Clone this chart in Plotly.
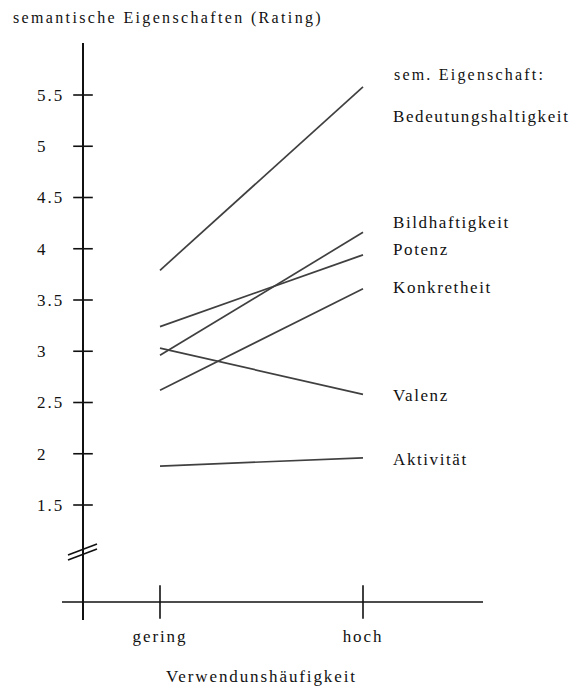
import plotly.graph_objects as go

# ---------------- data ----------------
categories = ["gering", "hoch"]
series_names = ["Bedeutungshaltigkeit", "Bildhaftigkeit", "Potenz",
                "Konkretheit", "Valenz", "Aktivität"]
bedeutungshaltigkeit = [3.79, 5.58]
bildhaftigkeit = [2.96, 4.16]
potenz = [3.24, 3.94]
konkretheit = [2.62, 3.61]
valenz = [3.03, 2.58]
aktivitaet = [1.88, 1.96]
y_tick_vals = [1.5, 2, 2.5, 3, 3.5, 4, 4.5, 5, 5.5]
y_tick_text = ["1.5", "2", "2.5", "3", "3.5", "4", "4.5", "5", "5.5"]

series_values = [bedeutungshaltigkeit, bildhaftigkeit, potenz,
                 konkretheit, valenz, aktivitaet]

# ---------------- geometry (reference pixels) ----------------
PAGE_OFF = 8                      # browser body margin
W, H = 577 - PAGE_OFF, 691 - PAGE_OFF
PL, PR, PT, PB = 8, 577, 43, 620  # plot area in reference pixels
X_UNIT = 203.0      # px per category step
Y_UNIT = 102.5      # px per rating unit
X0_PX = 160.0       # px of first category
Y15_PX = 505.0      # px of rating 1.5


def xv(px):
    return (px - X0_PX) / X_UNIT


def yv(py):
    return 1.5 + (Y15_PX - py) / Y_UNIT


def pxp(px):
    return (px - PL) / (PR - PL)


def pyp(py):
    return (PB - py) / (PB - PT)


def sp(text, ls):
    return f'<span style="letter-spacing:{ls}px">{text}</span>'


FONT = "Liberation Serif"
INK = "#111111"
LINE = "#404040"
LS = 1.6

x_pos = list(range(len(categories)))
yaxis_x = xv(83)
xaxis_y = yv(602)

fig = go.Figure()

for name, vals in zip(series_names, series_values):
    fig.add_trace(go.Scatter(x=x_pos, y=vals, mode="lines", name=name,
                             line=dict(color=LINE, width=1.7),
                             showlegend=False, hoverinfo="name+y"))

# x axis line
fig.add_trace(go.Scatter(x=[xv(62), xv(483)], y=[xaxis_y, xaxis_y],
                         mode="lines", line=dict(color=INK, width=1.6),
                         showlegend=False, hoverinfo="skip"))
# crossing ticks on x axis
fig.add_trace(go.Scatter(x=x_pos, y=[xaxis_y] * len(x_pos), mode="markers",
                         marker=dict(symbol="line-ns", size=24,
                                     line=dict(color=INK, width=1.6)),
                         showlegend=False, hoverinfo="skip", cliponaxis=False))
# crossing ticks on y axis
fig.add_trace(go.Scatter(x=[yaxis_x] * len(y_tick_vals), y=y_tick_vals,
                         mode="markers",
                         marker=dict(symbol="line-ew", size=14,
                                     line=dict(color=INK, width=1.6)),
                         showlegend=False, hoverinfo="skip", cliponaxis=False))
# invisible trace on y2 so the overlay axis is drawn
fig.add_trace(go.Scatter(x=[x_pos[0]], y=[y_tick_vals[0]], yaxis="y2",
                         mode="markers", marker=dict(opacity=0),
                         showlegend=False, hoverinfo="skip"))

yrange = [yv(PB), yv(PT)]

fig.update_layout(
    width=W, height=H,
    margin=dict(l=PL - PAGE_OFF, r=577 - PR, t=PT - PAGE_OFF, b=691 - PB),
    paper_bgcolor="white", plot_bgcolor="white",
    font=dict(family=FONT, color=INK, size=17),
    xaxis=dict(range=[xv(PL), xv(PR)], tickvals=x_pos,
               ticktext=[sp(c, 1.9) for c in categories],
               showgrid=False, zeroline=False, showline=False, ticks="",
               tickfont=dict(family=FONT, size=17, color=INK),
               ticklabelstandoff=4),
    yaxis=dict(range=yrange, anchor="free", position=pxp(83), side="left",
               showgrid=False, zeroline=False, showline=True,
               linecolor=INK, linewidth=2, ticks="", showticklabels=False),
    yaxis2=dict(range=yrange, overlaying="y", anchor="free",
                position=pxp(36), side="right",
                tickvals=y_tick_vals, ticktext=[sp(t, 2) for t in y_tick_text],
                showgrid=False, zeroline=False, showline=False, ticks="",
                tickfont=dict(family=FONT, size=17, color=INK),
                ticklabelstandoff=0),
)

# axis break marks
for off in (0, 5):
    fig.add_shape(type="line", xref="x", yref="y",
                  x0=xv(68), y0=yv(555 + off), x1=xv(97), y1=yv(544 + off),
                  line=dict(color=INK, width=1.6))

annos = [
    ("semantische Eigenschaften (Rating)", 11, 18, "left", 16, 2.35),
    ("sem. Eigenschaft:", 392, 75, "left", 16, 2.2),
    ("Bedeutungshaltigkeit", 391, 116, "left", 17, LS),
    ("Bildhaftigkeit", 391, 222, "left", 17, LS),
    ("Potenz", 391, 250, "left", 17, LS),
    ("Konkretheit", 391, 287, "left", 17, LS),
    ("Valenz", 391, 395, "left", 17, LS),
    ("Aktivität", 391, 459, "left", 17, LS),
    ("Verwendunshäufigkeit", 261, 676, "center", 17, 1.9),
]
for text, px, py, anchor, size, ls in annos:
    fig.add_annotation(text=sp(text, ls), x=pxp(px), y=pyp(py), xref="paper",
                       yref="paper", xanchor=anchor, yanchor="middle",
                       showarrow=False, font=dict(family=FONT, size=size,
                                                  color=INK))

fig.write_html("out.html")
